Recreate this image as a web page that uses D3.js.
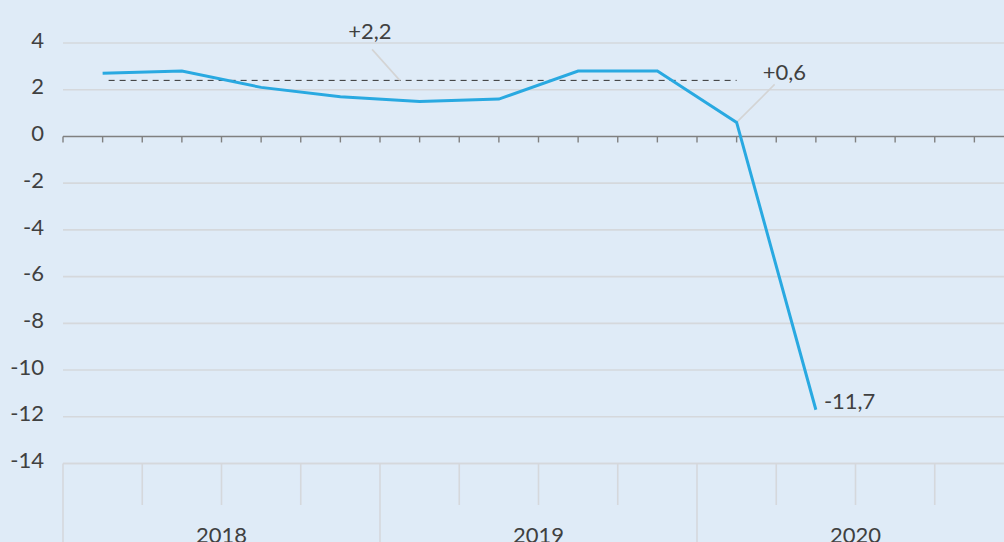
<!DOCTYPE html>
<html>
<head>
<meta charset="utf-8">
<script src="https://cdn.jsdelivr.net/npm/d3@7"></script>
<style>
  html, body { margin: 0; padding: 0; background: #dfebf7; overflow: hidden; }
  svg { display: block; font-family: Lato, 'Open Sans', sans-serif; }
</style>
</head>
<body>
<div id="chart"></div>
<script>
// data
const years = ['2018', '2019', '2020'];
const quarters = ['Q1', 'Q2', 'Q3', 'Q4'];
const growth = [2.7, 2.8, 2.1, 1.7, 1.5, 1.6, 2.8, 2.8, 0.6, -11.7];
const yTicks = [4, 2, 0, -2, -4, -6, -8, -10, -12, -14];
const avgValue = 2.4;
const avgLabel = '+2,2';
const lastLabels = ['+0,6', '-11,7'];

const width = 1004;
const height = 542;
const fontSize = '22px';

const periods = [];
years.forEach(y => quarters.forEach(q => periods.push(y + q)));

const svg = d3.select('#chart').append('svg')
  .attr('width', width)
  .attr('height', height);

svg.append('rect')
  .attr('width', width).attr('height', height)
  .attr('fill', '#dfebf7');

//scales
const x = d3.scaleBand().domain(periods).range([63, 1014]).padding(0);
const y = d3.scaleLinear().domain([-14, 4]).range([463.5, 43]);
const bw = x.bandwidth();
const cx = i => x(periods[i]) + bw / 2;

//gridlines
svg.append('g')
  .selectAll('line')
  .data(yTicks.filter(d => d !== 0))
  .join('line')
  .attr('x1', 63).attr('x2', width)
  .attr('y1', d => y(d)).attr('y2', d => y(d))
  .attr('stroke', '#d5d8dc')
  .attr('stroke-width', 1.6);

//y labels
svg.append('g')
  .selectAll('text')
  .data(yTicks)
  .join('text')
  .attr('x', 44)
  .attr('y', d => y(d) - 3)
  .attr('dy', '0.35em')
  .style('text-anchor', 'end')
  .style('font-size', fontSize)
  .style('fill', '#404040')
  .text(d => d);

//category box at the bottom
const box = svg.append('g');
box.append('line')
  .attr('x1', 63).attr('x2', width)
  .attr('y1', y(-14)).attr('y2', y(-14))
  .attr('stroke', '#d5d8dc').attr('stroke-width', 1.6);
box.selectAll('line.sep')
  .data(periods)
  .join('line')
  .attr('class', 'sep')
  .attr('x1', d => x(d)).attr('x2', d => x(d))
  .attr('y1', y(-14))
  .attr('y2', (d, i) => i % 4 === 0 ? height : 505)
  .attr('stroke', '#d5d8dc').attr('stroke-width', 1.6);
box.selectAll('text')
  .data(years)
  .join('text')
  .attr('x', d => x(d + 'Q1') + bw * 2)
  .attr('y', 543)
  .style('text-anchor', 'middle')
  .style('font-size', fontSize)
  .style('fill', '#404040')
  .text(d => d);

//zero axis with ticks
const zero = svg.append('g');
zero.append('line')
  .attr('x1', 63).attr('x2', width)
  .attr('y1', y(0)).attr('y2', y(0))
  .attr('stroke', '#808080').attr('stroke-width', 1.6);
const tickPos = [];
periods.forEach((p, i) => { tickPos.push(x(p)); tickPos.push(cx(i)); });
zero.selectAll('line.tick')
  .data(tickPos)
  .join('line')
  .attr('class', 'tick')
  .attr('x1', d => d).attr('x2', d => d)
  .attr('y1', y(0)).attr('y2', y(0) + 6)
  .attr('stroke', '#808080').attr('stroke-width', 1.4);

//average dashed line
svg.append('line')
  .attr('x1', cx(0) + 6).attr('x2', cx(8))
  .attr('y1', y(avgValue)).attr('y2', y(avgValue))
  .attr('stroke', '#333')
  .attr('stroke-width', 1)
  .attr('stroke-dasharray', '6,5');

//leader lines
const leader = '#d4d4d4';
svg.append('line')
  .attr('x1', x(periods[4]) + bw * 0.25).attr('y1', y(avgValue))
  .attr('x2', x(periods[3]) + bw * 0.9).attr('y2', y(avgValue) - 31)
  .attr('stroke', leader).attr('stroke-width', 1.6);
svg.append('line')
  .attr('x1', cx(8)).attr('y1', y(growth[8]))
  .attr('x2', cx(8) + 38).attr('y2', y(growth[8]) - 38)
  .attr('stroke', leader).attr('stroke-width', 1.6);

//main line
const line = d3.line()
  .x((d, i) => cx(i))
  .y(d => y(d));
svg.append('path')
  .datum(growth)
  .attr('d', line)
  .attr('fill', 'none')
  .attr('stroke', '#29a9e1')
  .attr('stroke-width', 3);

//labels
const lab = (tx, ty, t) => svg.append('text')
  .attr('x', tx).attr('y', ty)
  .style('font-size', fontSize)
  .style('fill', '#404040')
  .text(t);
lab(x(periods[3]) + bw * 0.6, 39, avgLabel);
lab(cx(8) + 26, y(growth[8]) - 42, lastLabels[0]);
lab(cx(9) + 8, y(growth[9]) - 1, lastLabels[1]);
</script>
</body>
</html>
